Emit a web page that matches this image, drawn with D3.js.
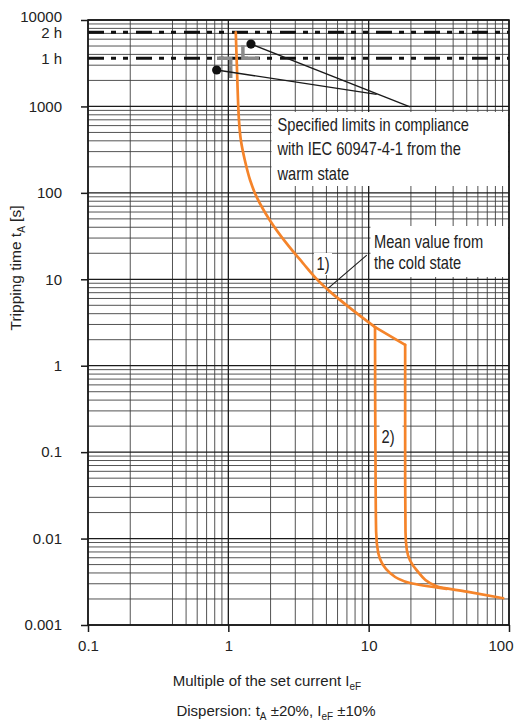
<!DOCTYPE html>
<html>
<head>
<meta charset="utf-8">
<script src="https://cdn.jsdelivr.net/npm/d3@7"></script>
<style>
  html, body { margin: 0; padding: 0; background: #fff; }
  svg { display: block; }
  .sans { font-family: "Liberation Sans", Arial, sans-serif; }
</style>
</head>
<body>
<svg id="chart" width="517" height="721"></svg>
<script>
// ---------- data ----------
const xDomain = [0.1, 100];
const yDomain = [0.001, 10000];
const xTickValues = [0.1, 1, 10, 100];
const xTickLabels = ["0.1", "1", "10", "100"];
const yTickValues = [0.001, 0.01, 0.1, 1, 10, 100, 1000, 10000];
const yTickLabels = ["0.001", "0.01", "0.1", "1", "10", "100", "1000", "10000"];
const hourValues = [7200, 3600];
const hourLabels = ["2 h", "1 h"];
const xGridSkip = [0.3];

// mean curve from the cold state (multiple of set current, seconds)
const mainCurve = [[1.13, 7200], [1.15, 3000], [1.19, 700], [1.23, 400], [1.31, 240], [1.43, 140],
  [1.59, 90], [1.98, 48], [2.6, 26], [3.4, 15.4], [4.3, 9.9], [5.3, 7.2], [7.7, 4.4], [11.1, 2.8]];
const stepSegment = [[11.1, 2.8], [18.2, 1.74]];
const rightBranch = [[18.2, 1.74], [18.2, 0.05], [18.3, 0.012], [18.7, 0.0074], [22, 0.0043],
  [30.5, 0.0028], [50, 0.00243], [91, 0.00204]];
const leftBranch = [[11.1, 2.8], [11.2, 0.05], [11.3, 0.012], [11.7, 0.0068], [14.2, 0.004],
  [19.7, 0.00306], [36, 0.00262]];

// IEC limits from the warm state
const limitUpper = [[1.27, 5100], [1.27, 3600], [1.66, 3600]];
const limitLower = [[0.83, 3600], [1.04, 3600], [1.04, 2130]];
const limitDots = [[1.45, 5270], [0.826, 2640]];
const leaderA = [[1.45, 5270], [19.7, 990]];
const leaderB = [[0.826, 2640], [11.4, 1380]];
const leaderMean = [[5.16, 7.9], [9.7, 19]];

const noteWarm = ["Specified limits in compliance", "with IEC 60947-4-1 from the", "warm state"];
const noteCold = ["Mean value from", "the cold state"];

// ---------- layout ----------
const W = 517, H = 721;
const m = { left: 88, right: 8, top: 20, bottom: 96 };
const svg = d3.select("#chart");
const x = d3.scaleLog().domain(xDomain).range([m.left, W - m.right]);
const y = d3.scaleLog().domain(yDomain).range([H - m.bottom, m.top]);
const X0 = x.range()[0], X1 = x.range()[1], Y0 = y.range()[0], Y1 = y.range()[1];

// ---------- grid ----------
const grid = svg.append("g");
const xMinor = x.ticks().filter(v => !xTickValues.some(t => Math.abs(t - v) < 1e-9) && !xGridSkip.some(s => Math.abs(s - v) < 1e-9));
const yMinor = y.ticks().filter(v => !yTickValues.some(t => Math.abs(t / v - 1) < 1e-9));
grid.selectAll(".xm").data(xMinor).join("line")
  .attr("x1", d => x(d)).attr("x2", d => x(d)).attr("y1", Y1).attr("y2", Y0)
  .attr("stroke", "#3f3f3f").attr("stroke-width", 0.9);
grid.selectAll(".ym").data(yMinor).join("line")
  .attr("y1", d => y(d)).attr("y2", d => y(d)).attr("x1", X0).attr("x2", X1)
  .attr("stroke", "#3f3f3f").attr("stroke-width", 0.9);
grid.selectAll(".xM").data(xTickValues).join("line")
  .attr("x1", d => x(d)).attr("x2", d => x(d)).attr("y1", Y1).attr("y2", Y0)
  .attr("stroke", "#1a1a1a").attr("stroke-width", 1.3);
grid.selectAll(".yM").data(yTickValues).join("line")
  .attr("y1", d => y(d)).attr("y2", d => y(d)).attr("x1", X0).attr("x2", X1)
  .attr("stroke", "#1a1a1a").attr("stroke-width", 1.3);

// ---------- white note boxes ----------
const boxes = svg.append("g");
boxes.append("rect").attr("x", 271.5).attr("y", 112).attr("width", X1 - 1 - 271.5).attr("height", 74).attr("fill", "#fff");
boxes.append("rect").attr("x", 370.5).attr("y", 226).attr("width", X1 - 1 - 370.5).attr("height", 51).attr("fill", "#fff");
boxes.append("rect").attr("x", 314).attr("y", 253).attr("width", 18).attr("height", 22).attr("fill", "#fff");
boxes.append("rect").attr("x", 379.5).attr("y", 425).attr("width", 23).attr("height", 24).attr("fill", "#fff");

// ---------- hour lines ----------
svg.append("g").selectAll("line").data(hourValues).join("line")
  .attr("x1", X0).attr("x2", X1).attr("y1", d => y(d)).attr("y2", d => y(d))
  .attr("stroke", "#111").attr("stroke-width", 3).attr("stroke-dasharray", "16,7,5,7,5,8");

// ---------- limits ----------
const line = d3.line().x(d => x(d[0])).y(d => y(d[1]));
svg.append("path").attr("d", line(limitUpper)).attr("fill", "none").attr("stroke", "#8a8a8a").attr("stroke-width", 3.5);
svg.append("path").attr("d", line(limitLower)).attr("fill", "none").attr("stroke", "#8a8a8a").attr("stroke-width", 3.5);

// ---------- frame ----------
svg.append("rect").attr("x", X0).attr("y", Y1).attr("width", X1 - X0).attr("height", Y0 - Y1)
  .attr("fill", "none").attr("stroke", "#1a1a1a").attr("stroke-width", 1.6);

// ---------- curves ----------
const orange = "#f5842a";
const smoothMain = d3.line().x(d => x(d[0])).y(d => y(d[1])).curve(d3.curveCatmullRom.alpha(0.5));
const smoothBranch = d3.line().x(d => x(d[0])).y(d => y(d[1])).curve(d3.curveMonotoneY);
const curveStyle = p => p.attr("fill", "none").attr("stroke", orange)
  .attr("stroke-width", 2.7).attr("stroke-linejoin", "round").attr("stroke-linecap", "round");
svg.append("path").attr("d", smoothMain(mainCurve)).call(curveStyle);
svg.append("path").attr("d", line(stepSegment)).call(curveStyle);
svg.append("path").attr("d", smoothBranch(rightBranch)).call(curveStyle);
svg.append("path").attr("d", smoothBranch(leftBranch)).call(curveStyle);

// ---------- leaders ----------
[leaderA, leaderB].forEach(pts => svg.append("path").attr("d", line(pts)).attr("fill", "none")
  .attr("stroke", "#1a1a1a").attr("stroke-width", 1.3));
svg.append("path").attr("d", line(leaderMean)).attr("fill", "none").attr("stroke", "#1a1a1a").attr("stroke-width", 1.1);
svg.append("g").selectAll("circle").data(limitDots).join("circle")
  .attr("cx", d => x(d[0])).attr("cy", d => y(d[1])).attr("r", 4.6).attr("fill", "#111");

// ---------- axes ----------
const axL = svg.append("g").attr("transform", `translate(${X0},0)`).attr("class", "sans")
  .call(d3.axisLeft(y).tickValues(yTickValues).tickSize(7).tickPadding(19)
    .tickFormat((d, i) => yTickLabels[i]));
const axB = svg.append("g").attr("transform", `translate(0,${Y0})`).attr("class", "sans")
  .call(d3.axisBottom(x).tickValues(xTickValues).tickSize(7).tickPadding(8)
    .tickFormat((d, i) => xTickLabels[i]));
[axL, axB].forEach(a => {
  a.select(".domain").remove();
  a.selectAll(".tick line").attr("stroke", "#1a1a1a").attr("stroke-width", 1.5);
  a.selectAll(".tick text").attr("fill", "#222").style("font-size", "15px").style("font-family", '"Liberation Sans", Arial, sans-serif');
});
axL.selectAll(".tick text").filter(d => d === yDomain[1]).attr("dy", "0.1em");
axB.selectAll(".tick text").filter((d, i) => i === xTickValues.length - 1)
  .attr("text-anchor", "end").attr("x", 4);

svg.append("g").attr("class", "sans").selectAll("text").data(hourValues).join("text")
  .attr("x", X0 - 26).attr("y", d => y(d)).attr("dy", "0.38em").attr("text-anchor", "end")
  .style("font-size", "15px").attr("fill", "#222").text((d, i) => hourLabels[i]);

// ---------- notes (condensed look) ----------
const cond = 0.815;
function condensed(xPos, lines, y0, step) {
  const g = svg.append("g").attr("transform", `translate(${xPos},0) scale(${cond},1)`);
  const t = g.append("text").attr("class", "sans").style("font-size", "18px").attr("fill", "#222");
  lines.forEach((s, i) => t.append("tspan").attr("x", 0).attr("y", y0 + i * step).text(s));
}
condensed(277.5, noteWarm, 131, 24.5);
condensed(374, noteCold, 248, 21.5);
condensed(316.5, ["1)"], 270, 0);
condensed(381.5, ["2)"], 443, 0);

// ---------- axis titles ----------
const yt = svg.append("text").attr("class", "sans").attr("fill", "#222").style("font-size", "15.5px")
  .attr("text-anchor", "middle").attr("transform", "translate(21,268) rotate(-90)");
yt.append("tspan").text("Tripping time  t");
yt.append("tspan").attr("dy", 4).style("font-size", "10px").text("A");
yt.append("tspan").attr("dy", -4).text("  [s]");

const xt1 = svg.append("text").attr("class", "sans").attr("fill", "#222").style("font-size", "15px")
  .attr("text-anchor", "middle").attr("x", 267).attr("y", 686);
xt1.append("tspan").text("Multiple of the set current I");
xt1.append("tspan").attr("dy", 4).style("font-size", "10px").text("eF");

const xt2 = svg.append("text").attr("class", "sans").attr("fill", "#222").style("font-size", "15px")
  .attr("text-anchor", "middle").attr("x", 276).attr("y", 716);
xt2.append("tspan").text("Dispersion: t");
xt2.append("tspan").attr("dy", 4).style("font-size", "10px").text("A");
xt2.append("tspan").attr("dy", -4).text(" \u00B120%, I");
xt2.append("tspan").attr("dy", 4).style("font-size", "10px").text("eF");
xt2.append("tspan").attr("dy", -4).text(" \u00B110%");
</script>
</body>
</html>
